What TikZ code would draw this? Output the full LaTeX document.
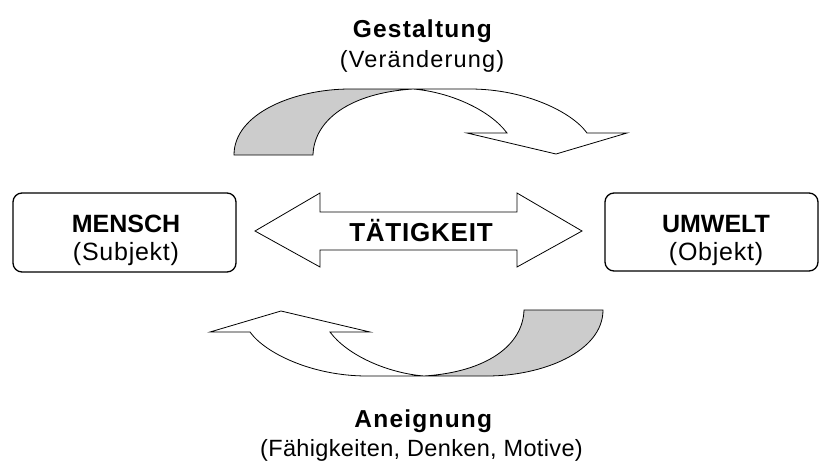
\documentclass[tikz,border=0pt]{standalone}
\usepackage{fontspec}
\setmainfont{Liberation Sans}
\newfontfamily\widefont[LetterSpace=5]{Liberation Sans}
\newfontfamily\slightfont[LetterSpace=1.5]{Liberation Sans}
\newfontfamily\boxfont[LetterSpace=3]{Liberation Sans}
\definecolor{bandgray}{HTML}{CCCCCC}

\tikzset{
  outline/.style={draw=black, line width=0.8pt, line join=miter},
  rbox/.style={draw=black, line width=1.3pt, rounded corners=9pt, fill=white,
               inner sep=0pt},
  headline/.style={anchor=base, inner sep=0pt,
                   font=\widefont\bfseries\fontsize{24.5}{29}\selectfont},
  subline/.style={anchor=base, inner sep=0pt,
                  font=\widefont\fontsize{23.5}{28}\selectfont},
  longsubline/.style={anchor=base, inner sep=0pt,
                  font=\slightfont\fontsize{23.5}{28}\selectfont},
  boxhead/.style={anchor=base, inner sep=0pt,
                  font=\bfseries\fontsize{25}{30}\selectfont},
  boxsub/.style={anchor=base, inner sep=0pt,
                 font=\boxfont\fontsize{25}{30}\selectfont},
  % curved band arrow: grey back half, white front half with the head
  bandarrow/.pic={
    \path[outline, fill=bandgray]
      (234,-155) .. controls (234,-113) and (295,-89) .. (350,-89)
      -- (413,-89)
      .. controls (350,-93) and (314,-120) .. (313,-155) -- cycle;
    \path[outline, fill=white]
      (413,-89) -- (470,-89)
      .. controls (525,-89) and (572,-112) .. (587,-133)
      -- (627,-133) -- (556,-154) -- (467,-133) -- (507,-133)
      .. controls (490,-110) and (450,-92) .. (413,-89) -- cycle;
  }
}

\begin{document}
\begin{tikzpicture}[x=1pt,y=1pt]
\useasboundingbox (0,0) rectangle (820,-464);

% upper arrow (Gestaltung) and lower arrow (Aneignung), point-symmetric
\pic at (0,0) {bandarrow};
\pic[rotate=180] at (837,-465) {bandarrow};

% double arrow in the middle
\path[outline, fill=white]
  (255,-231) -- (320,-193) -- (320,-212) -- (517,-212) -- (517,-193)
  -- (582,-231) -- (517,-267) -- (517,-250) -- (320,-250) -- (320,-267) -- cycle;
\node[anchor=base, inner sep=0pt,
      font=\boxfont\bfseries\fontsize{26}{30}\selectfont]
  (activity) at (421,-241.7) {TÄTIGKEIT};

% the two partners
\node[rbox, minimum width=223pt, minimum height=79pt] (human) at (124.5,-232.5) {};
\node[boxhead] (humanT) at (126,-232.7) {MENSCH};
\node[boxsub] (humanS) at (126,-260.8) {(Subjekt)};

\node[rbox, minimum width=213pt, minimum height=78pt] (world) at (711.5,-232) {};
\node[boxhead] (worldT) at (716,-232.7) {UMWELT};
\node[boxsub] (worldS) at (716,-260.8) {(Objekt)};

% labels of the curved arrows
\node[headline] (shapeT) at (422.3,-37) {Gestaltung};
\node[subline] (shapeS) at (422,-67.5) {(Veränderung)};
\node[headline] (acqT) at (423.3,-427.5) {Aneignung};
\node[longsubline] (acqS) at (421.5,-456) {(Fähigkeiten, Denken, Motive)};
\end{tikzpicture}
\end{document}
